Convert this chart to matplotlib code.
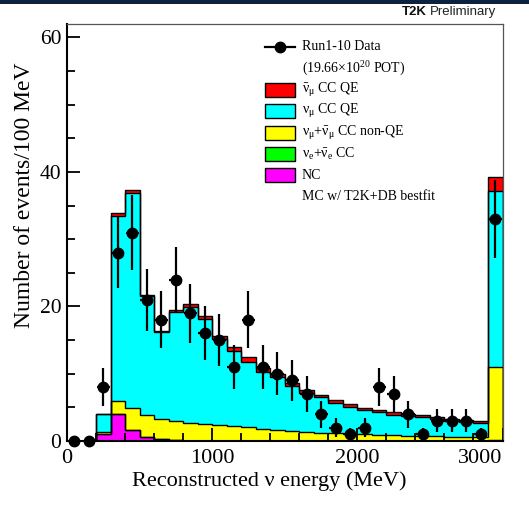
import numpy as np
import matplotlib
matplotlib.use("Agg")
import matplotlib.pyplot as plt
from matplotlib.patches import Rectangle
from matplotlib.lines import Line2D
from matplotlib.ticker import MultipleLocator

W, H = 529, 512
plt.rcParams['font.family'] = ['Liberation Serif', 'DejaVu Serif']
plt.rcParams['mathtext.fontset'] = 'custom'
plt.rcParams['mathtext.rm'] = 'Liberation Serif'
plt.rcParams['mathtext.it'] = 'Liberation Serif:italic'
plt.rcParams['mathtext.bf'] = 'Liberation Serif:bold'

# ---- data (events per 100 MeV bin, 0-3000 MeV, last bin incl. overflow) ----
edges = np.arange(0, 3001, 100)
data = [0, 0, 8, 28, 31, 21, 18, 24, 19, 16, 15, 11, 18, 11, 10, 9, 7, 4, 2, 1,
        2, 8, 7, 4, 1, 3, 3, 3, 1, 33]
nc = [0, 0, 1.1, 4.0, 1.6, 0.6, 0.25, 0.1, 0.05, 0.03, 0.02, 0.02, 0.01, 0.01, 0.01,
      0.01, 0.01, 0.01, 0.01, 0.01, 0.01, 0.01, 0.01, 0.01, 0.01, 0.01, 0.01, 0.01, 0.01, 0.05]
nue = [0, 0, 0.0, 0.0, 0.0, 0.0, 0.0, 0.0, 0.0, 0.0, 0.0, 0.0, 0.0, 0.0, 0.0,
       0.0, 0.0, 0.0, 0.0, 0.0, 0.0, 0.0, 0.0, 0.0, 0.0, 0.0, 0.0, 0.0, 0.0, 0.05]
nonqe = [0, 0, 0.2, 2.0, 3.3, 3.3, 3.0, 2.8, 2.65, 2.57, 2.43, 2.23, 2.04, 1.79, 1.64,
         1.49, 1.34, 1.24, 1.14, 1.09, 0.99, 0.94, 0.89, 0.79, 0.74, 0.69, 0.64, 0.59, 0.54, 10.9]
numu_qe = [0, 0, 2.65, 27.45, 32.0, 17.6, 13.0, 16.35, 17.15, 15.5, 12.7, 11.1, 9.65, 8.45, 7.85,
           6.65, 5.85, 5.25, 4.5, 4.0, 3.56, 3.3, 3.01, 2.85, 2.75, 2.52, 2.35, 2.27, 2.2, 26.1]
numubar_qe = [0, 0, 0.05, 0.5, 0.4, 0.2, 0.15, 0.25, 0.45, 0.5, 0.45, 0.65, 0.8, 0.65, 0.5,
              0.45, 0.4, 0.35, 0.4, 0.4, 0.4, 0.35, 0.35, 0.35, 0.3, 0.3, 0.3, 0.25, 0.25, 2.2]

comp_colors = ['#ff00ff', '#00ff00', '#ffff00', '#00ffff', '#ff0000']
NU = r'\mathrm{\nu}'
NUB = r'\bar{\mathrm{\nu}}'
legend_labels = [rf'${NUB}_{{\mathrm{{\mu}}}}$ CC QE',
                 rf'${NU}_{{\mathrm{{\mu}}}}$ CC QE',
                 rf'${NU}_{{\mathrm{{\mu}}}}$+${NUB}_{{\mathrm{{\mu}}}}$ CC non-QE',
                 rf'${NU}_{{\mathrm{{e}}}}$+${NUB}_{{\mathrm{{e}}}}$ CC',
                 'NC']
legend_colors = ['#ff0000', '#00ffff', '#ffff00', '#00ff00', '#ff00ff']

fig = plt.figure(figsize=(W / 100, H / 100), dpi=100)
fx = lambda px: px / W
fy = lambda py: 1 - py / H

ax = fig.add_axes([fx(67), fy(441), fx(502.5) - fx(67), fy(24) - fy(441)])
ax.set_xlim(0, 3000)
ax.set_ylim(0, 62)

stack = np.array([nc, nue, nonqe, numu_qe, numubar_qe])
cum = np.cumsum(stack, axis=0)
for k in reversed(range(len(stack))):
    ax.stairs(cum[k], edges, fill=True, facecolor=comp_colors[k], edgecolor='none', zorder=1)
for k in range(len(stack)):
    ax.stairs(cum[k], edges, color='black', lw=1.0, zorder=2)

centers = 0.5 * (edges[:-1] + edges[1:])
d = np.array(data, dtype=float)
ax.errorbar(centers, d, yerr=np.sqrt(d), xerr=np.where(d > 0, 45, 0), fmt='o', color='black',
            ms=7.5, elinewidth=1.6, capsize=0, zorder=10, clip_on=False)

ax.set_xticks([0, 1000, 2000, 3000])
ax.set_yticks([0, 20, 40, 60])
ax.xaxis.set_minor_locator(MultipleLocator(200))
ax.yaxis.set_minor_locator(MultipleLocator(5))
ax.tick_params(which='both', direction='in', top=False, right=False, width=1.3)
ax.tick_params(axis='x', labelsize=16, pad=6)
ax.tick_params(axis='y', labelsize=15.5, pad=4)
ax.tick_params(which='major', length=9.5)
ax.tick_params(which='minor', length=5.5)
for s in ['left', 'bottom']:
    ax.spines[s].set_linewidth(1.5)
for s in ['top', 'right']:
    ax.spines[s].set_linewidth(0.9)
    ax.spines[s].set_color('#555555')
xl = ax.get_xticklabels()
xl[-1].set_horizontalalignment('right')

fig.text(fx(269), fy(481), 'Reconstructed ν energy (MeV)', ha='center', va='center', fontsize=16)
fig.text(fx(25), fy(195), 'Number of events/100 MeV', rotation=90, ha='center', va='center',
         fontsize=17)

# ---- legend ----
rows = [47 + 21.4 * i for i in range(8)]
tx = 302
fig.add_artist(Line2D([fx(265), fx(295)], [fy(rows[0])] * 2, color='black', lw=1.6,
                      transform=fig.transFigure))
fig.add_artist(Line2D([fx(280)], [fy(rows[0])], marker='o', ms=7.5, color='black',
                      transform=fig.transFigure))
fig.text(fx(tx), fy(rows[0]), 'Run1-10 Data', va='center', fontsize=10)
fig.text(fx(tx), fy(rows[1]), r'(19.66$\times$10$^{20}$ POT)', va='center', fontsize=10)
for i, (lab, col) in enumerate(zip(legend_labels, legend_colors)):
    y = rows[2 + i]
    fig.add_artist(Rectangle((fx(265), fy(y + 7)), fx(295) - fx(265), 14 / H, facecolor=col,
                             edgecolor='black', lw=1.0, transform=fig.transFigure))
    fig.text(fx(tx), fy(y), lab, va='center', fontsize=10)
fig.text(fx(tx), fy(rows[7]), 'MC w/ T2K+DB bestfit', va='center', fontsize=10)

# ---- header ----
fig.add_artist(Rectangle((0, fy(3.5)), 1, 3.5 / H, facecolor='#0c2340', edgecolor='none',
                         transform=fig.transFigure))
t2 = fig.text(fx(496), fy(12), 'Preliminary', ha='right', va='center', fontsize=9.5,
              family=['Liberation Sans', 'DejaVu Sans'], color='#222222')
fig.canvas.draw()
bb = t2.get_window_extent()
fig.text((bb.x0 - 3.5) / W, fy(12), 'T2K', ha='right', va='center', fontsize=9.5,
         weight='bold', family=['Liberation Sans', 'DejaVu Sans'], color='#111111')

fig.savefig('out.png', dpi=100, facecolor='white')
